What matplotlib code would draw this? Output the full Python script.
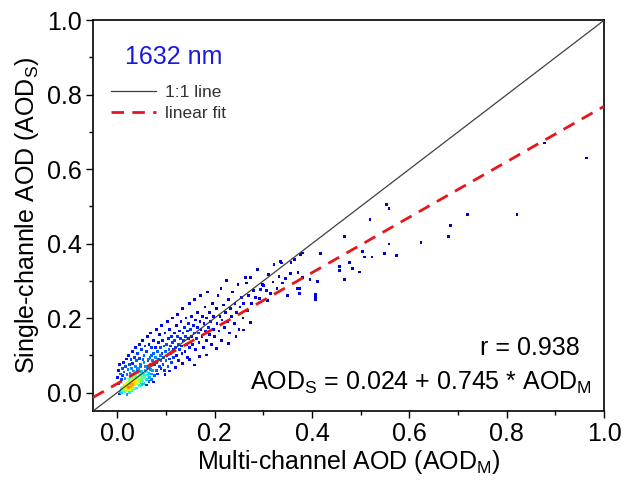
import numpy as np
import matplotlib.pyplot as plt
from matplotlib.ticker import MultipleLocator

plt.rcParams['font.family'] = ['Liberation Sans', 'DejaVu Sans']
plt.rcParams['mathtext.fontset'] = 'custom'
plt.rcParams['mathtext.rm'] = 'Liberation Sans'
plt.rcParams['mathtext.it'] = 'Liberation Sans:italic'

# fit results printed on the chart
r_value = 0.938
intercept = 0.024
slope = 0.745

# (AOD_M, AOD_S) pairs
core_pts = [
    (0.004, -0.004), (0.006, 0.002), (0.008, 0.010), (0.009, 0.000), (0.010, 0.006),
    (0.011, 0.015), (0.012, 0.004), (0.013, 0.010), (0.014, 0.020), (0.015, 0.008),
    (0.015, 0.014), (0.016, 0.002), (0.017, 0.018), (0.018, 0.011), (0.018, 0.025),
    (0.019, 0.006), (0.020, 0.015), (0.020, 0.021), (0.021, 0.010), (0.022, 0.028),
    (0.022, 0.017), (0.023, 0.013), (0.024, 0.022), (0.024, 0.034), (0.025, 0.008),
    (0.025, 0.018), (0.026, 0.026), (0.027, 0.015), (0.027, 0.040), (0.028, 0.022),
    (0.028, 0.030), (0.029, 0.012), (0.030, 0.019), (0.030, 0.026), (0.030, 0.048),
    (0.031, 0.035), (0.032, 0.022), (0.032, 0.016), (0.033, 0.029), (0.034, 0.040),
    (0.034, 0.024), (0.035, 0.031), (0.035, 0.055), (0.036, 0.020), (0.037, 0.036),
    (0.038, 0.027), (0.038, 0.045), (0.039, 0.032), (0.040, 0.024), (0.040, 0.038),
    (0.041, 0.062), (0.042, 0.030), (0.043, 0.042), (0.044, 0.035), (0.045, 0.028),
    (0.045, 0.050), (0.046, 0.040), (0.047, 0.070), (0.048, 0.033), (0.049, 0.046),
    (0.050, 0.038), (0.050, 0.056), (0.052, 0.043), (0.053, 0.030), (0.054, 0.050),
    (0.055, 0.080), (0.056, 0.040), (0.057, 0.060), (0.058, 0.047), (0.060, 0.035),
    (0.060, 0.055), (0.062, 0.068), (0.063, 0.045), (0.064, 0.090), (0.065, 0.052),
    (0.066, 0.040), (0.068, 0.062), (0.069, 0.075), (0.070, 0.050), (0.070, 0.100),
]

core_edge_pts = [
    (0.000, 0.040), (0.002, 0.060), (0.003, 0.025), (0.005, 0.075), (0.006, 0.050),
    (0.008, 0.035), (0.010, 0.065), (0.011, 0.045), (0.013, 0.080), (0.014, 0.055),
    (0.016, 0.038), (0.017, 0.070), (0.019, 0.090), (0.020, 0.048), (0.022, 0.062),
    (0.023, 0.100), (0.025, 0.075), (0.026, 0.052), (0.028, 0.088), (0.029, 0.065),
    (0.031, 0.110), (0.032, 0.078), (0.034, 0.058), (0.035, 0.095), (0.037, 0.070),
    (0.038, 0.120), (0.040, 0.085), (0.042, 0.105), (0.043, 0.065), (0.045, 0.130),
    (0.046, 0.092), (0.048, 0.075), (0.050, 0.115), (0.052, 0.140), (0.053, 0.088),
    (0.055, 0.100), (0.057, 0.125), (0.058, 0.070), (0.060, 0.110), (0.062, 0.150),
    (0.063, 0.085), (0.065, 0.130), (0.067, 0.095), (0.068, 0.160), (0.070, 0.120),
    (0.020, -0.005), (0.025, 0.000), (0.030, 0.005), (0.035, 0.010), (0.040, 0.012),
    (0.045, 0.018), (0.050, 0.022), (0.055, 0.025), (0.060, 0.020), (0.065, 0.030),
    (0.070, 0.035), (0.075, 0.028),
]

mid_pts = [
    (0.072, 0.060), (0.073, 0.085), (0.074, 0.140), (0.075, 0.105), (0.076, 0.045),
    (0.077, 0.075), (0.078, 0.120), (0.079, 0.095), (0.080, 0.060), (0.080, 0.170),
    (0.081, 0.080), (0.082, 0.110), (0.083, 0.050), (0.084, 0.135), (0.085, 0.090),
    (0.086, 0.070), (0.087, 0.155), (0.088, 0.100), (0.089, 0.120), (0.090, 0.065),
    (0.090, 0.085), (0.091, 0.180), (0.092, 0.105), (0.093, 0.140), (0.094, 0.075),
    (0.095, 0.095), (0.096, 0.125), (0.097, 0.060), (0.098, 0.160), (0.099, 0.110),
    (0.100, 0.085), (0.101, 0.130), (0.102, 0.100), (0.103, 0.190), (0.104, 0.070),
    (0.105, 0.145), (0.106, 0.115), (0.107, 0.090), (0.108, 0.170), (0.109, 0.125),
    (0.110, 0.105), (0.111, 0.150), (0.112, 0.080), (0.113, 0.200), (0.114, 0.135),
    (0.115, 0.115), (0.116, 0.095), (0.117, 0.160), (0.118, 0.140), (0.120, 0.120),
    (0.121, 0.180), (0.122, 0.100), (0.123, 0.150), (0.124, 0.210), (0.125, 0.130),
    (0.126, 0.085), (0.127, 0.165), (0.128, 0.115), (0.130, 0.145), (0.131, 0.190),
    (0.132, 0.125), (0.133, 0.105), (0.134, 0.225), (0.135, 0.160), (0.136, 0.140),
    (0.138, 0.175), (0.139, 0.110), (0.140, 0.150), (0.141, 0.200), (0.142, 0.130),
    (0.144, 0.165), (0.145, 0.095), (0.146, 0.185), (0.147, 0.145), (0.148, 0.240),
    (0.149, 0.120), (0.150, 0.170), (0.152, 0.150), (0.153, 0.205), (0.155, 0.130),
    (0.156, 0.180), (0.158, 0.160), (0.159, 0.250), (0.160, 0.115), (0.161, 0.195),
    (0.163, 0.145), (0.164, 0.175), (0.165, 0.215), (0.167, 0.160), (0.168, 0.135),
    (0.170, 0.190), (0.171, 0.260), (0.172, 0.170), (0.174, 0.150), (0.175, 0.205),
    (0.177, 0.120), (0.178, 0.185), (0.180, 0.230), (0.181, 0.165), (0.183, 0.140),
    (0.184, 0.200), (0.186, 0.270), (0.187, 0.175), (0.189, 0.155), (0.190, 0.215),
    (0.192, 0.190), (0.193, 0.130), (0.195, 0.240), (0.197, 0.170), (0.198, 0.205),
    (0.200, 0.150),
]

low_pts = [
    (0.098, 0.048), (0.108, 0.058), (0.119, 0.068), (0.134, 0.079), (0.149, 0.089),
    (0.159, 0.074), (0.169, 0.096), (0.184, 0.101), (0.204, 0.119), (0.214, 0.139),
    (0.229, 0.131), (0.244, 0.151), (0.259, 0.168), (0.273, 0.189),
]

upper_pts = [
    (0.203, 0.225), (0.205, 0.185), (0.207, 0.260), (0.209, 0.165), (0.211, 0.205),
    (0.213, 0.280), (0.215, 0.195), (0.218, 0.235), (0.220, 0.175), (0.222, 0.215),
    (0.224, 0.300), (0.226, 0.190), (0.228, 0.250), (0.230, 0.160), (0.232, 0.225),
    (0.235, 0.205), (0.237, 0.270), (0.240, 0.185), (0.242, 0.240), (0.245, 0.215),
    (0.248, 0.290), (0.250, 0.170), (0.252, 0.230), (0.255, 0.255), (0.258, 0.200),
    (0.260, 0.240), (0.263, 0.310), (0.265, 0.294), (0.268, 0.220), (0.270, 0.260),
    (0.274, 0.308), (0.276, 0.240), (0.280, 0.275), (0.284, 0.255), (0.288, 0.330),
    (0.292, 0.252), (0.294, 0.276), (0.298, 0.290), (0.301, 0.288), (0.306, 0.274),
    (0.309, 0.247), (0.311, 0.317), (0.315, 0.265), (0.320, 0.297), (0.322, 0.344),
    (0.328, 0.280), (0.332, 0.312), (0.335, 0.352), (0.337, 0.348), (0.340, 0.294),
    (0.345, 0.306), (0.350, 0.260), (0.355, 0.319), (0.357, 0.350), (0.364, 0.357),
    (0.369, 0.279), (0.371, 0.323), (0.376, 0.370), (0.381, 0.375), (0.381, 0.308),
    (0.374, 0.280), (0.374, 0.266), (0.396, 0.303), (0.407, 0.263), (0.407, 0.256),
    (0.407, 0.249), (0.412, 0.299), (0.417, 0.374),
]

outlier_pts = [
    (0.457, 0.339), (0.457, 0.328), (0.467, 0.419), (0.467, 0.303), (0.477, 0.349),
    (0.483, 0.333), (0.498, 0.324), (0.503, 0.379), (0.508, 0.364), (0.519, 0.464),
    (0.523, 0.364), (0.549, 0.373), (0.553, 0.505), (0.558, 0.494), (0.558, 0.399),
    (0.573, 0.368), (0.624, 0.404), (0.680, 0.419), (0.685, 0.449), (0.720, 0.478),
    (0.821, 0.478), (0.877, 0.670), (0.963, 0.630),
]

pts = np.array(core_pts + core_edge_pts + mid_pts + low_pts + upper_pts + outlier_pts)
x = pts[:, 0]
y = pts[:, 1]

# point density = neighbours within a small radius
dist = np.hypot(x[:, None] - x[None, :], y[:, None] - y[None, :])
dens = (dist < 0.016).sum(axis=1).astype(float)
order = np.argsort(dens)

fig = plt.figure(figsize=(6.28, 4.82), dpi=100)
ax = fig.add_axes([0.148, 0.147, 0.814, 0.811])

ax.scatter(x[order], y[order], c=dens[order], cmap='jet', vmin=-2, vmax=dens.max() * 1.35,
           s=4, marker='s', linewidths=0, zorder=2)

lims = np.array([-0.05, 1.0])
ax.plot(lims, lims, color='#404040', lw=0.9, label='1:1 line', zorder=3)
ax.plot(lims, intercept + slope * lims, color='#e8161b', lw=2, ls=(0, (4.5, 3)),
        label='linear fit', zorder=4)

ax.set_xlim(-0.05, 1.0)
ax.set_ylim(-0.05, 1.0)
ax.xaxis.set_major_locator(MultipleLocator(0.2))
ax.xaxis.set_minor_locator(MultipleLocator(0.1))
ax.yaxis.set_major_locator(MultipleLocator(0.2))
ax.yaxis.set_minor_locator(MultipleLocator(0.1))
ax.tick_params(which='both', direction='out', top=False, right=False, labelsize=18, width=1)
ax.tick_params(which='major', length=5, pad=3)
ax.tick_params(which='minor', length=3)
for sp in ax.spines.values():
    sp.set_linewidth(1.2)

ax.set_xlabel('Multi-channel AOD (AOD$_\\mathrm{M}$)', fontsize=18, labelpad=1)
ax.set_ylabel('Single-channle AOD (AOD$_\\mathrm{S}$)', fontsize=18, labelpad=4)

ax.text(0.063, 0.905, '1632 nm', color='#1a1adc', fontsize=18,
        transform=ax.transAxes, va='center', ha='left')
ax.text(0.953, 0.161, f'r = {r_value}', fontsize=18,
        transform=ax.transAxes, va='center', ha='right')
ax.text(0.977, 0.072, f'AOD$_\\mathrm{{S}}$ = {intercept} + {slope} * AOD$_\\mathrm{{M}}$',
        fontsize=18, transform=ax.transAxes, va='center', ha='right')

leg = ax.legend(loc='upper left', bbox_to_anchor=(0.035, 0.835), frameon=False, fontsize=12.5,
                handlelength=2.6, handletextpad=0.5, labelspacing=0.35, borderpad=0,
                borderaxespad=0)
for t in leg.get_texts():
    t.set_color('#333333')

fig.savefig('out.png', dpi=100)
